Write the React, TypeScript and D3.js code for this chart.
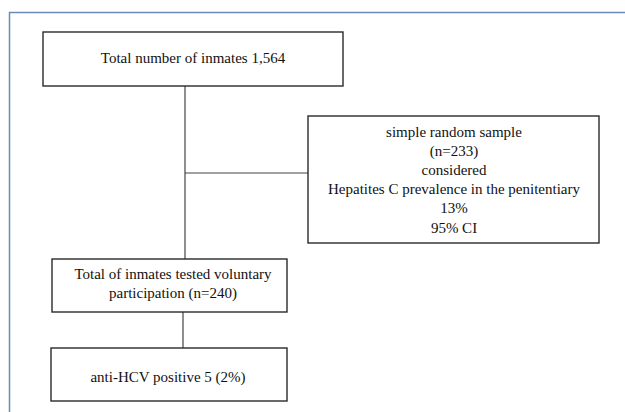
import React from "react";
import * as d3 from "d3";

const W = 625;
const H = 412;

// Texts of the flow chart boxes
const topBoxLines = ["Total number of inmates 1,564"];
const sideBoxLines = [
  "simple random sample",
  "(n=233)",
  "considered",
  "Hepatites C prevalence in the penitentiary",
  "13%",
  "95% CI",
];
const testedBoxLines = ["Total of inmates tested voluntary", "participation (n=240)"];
const resultBoxLines = ["anti-HCV positive 5 (2%)"];

// Layout (pixels)
const frame = { x: 9.5, y: 12.5 };
const boxes = [
  { key: "top", x: 43, y: 32, w: 300, h: 54, lines: topBoxLines, cx: 193, cy: 58 },
  { key: "side", x: 308, y: 116, w: 291, h: 127, lines: sideBoxLines, cx: 454, cy: 179.5 },
  { key: "tested", x: 52, y: 259, w: 235, h: 53, lines: testedBoxLines, cx: 173, cy: 283.5 },
  { key: "result", x: 51, y: 348, w: 236, h: 53, lines: resultBoxLines, cx: 168, cy: 377 },
];
const lineGap = 19.2;

const connectors: [number, number][][] = [
  [[185, 86], [185, 259]],
  [[185, 173], [308, 173]],
  [[183, 312], [183, 348]],
];

const FONT = "'Liberation Serif', 'Times New Roman', Times, 'DejaVu Serif', serif";

export default function App() {
  const lineGen = d3.line<[number, number]>().x((d) => d[0]).y((d) => d[1]);
  return (
    <svg
      width={W}
      height={H}
      style={{ position: "absolute", left: 0, top: 0, background: "#fff" }}
    >
      <rect width={W} height={H} fill="#fff" />
      {/* frame */}
      <path
        d={lineGen([[frame.x, H], [frame.x, frame.y], [W, frame.y]]) || ""}
        fill="none"
        stroke="#6a8ab8"
        strokeWidth={1.5}
      />
      {connectors.map((c, i) => (
        <path key={i} d={lineGen(c) || ""} fill="none" stroke="#444" strokeWidth={1.2} />
      ))}
      {boxes.map((b) => (
        <g key={b.key}>
          <rect x={b.x} y={b.y} width={b.w} height={b.h} fill="#fff" stroke="#2a2a2a" strokeWidth={1.4} />
          {b.lines.map((t, i) => (
            <text
              key={i}
              x={b.cx}
              y={b.cy + (i - (b.lines.length - 1) / 2) * lineGap}
              textAnchor="middle"
              dominantBaseline="central"
              style={{ fontFamily: FONT, fontSize: "15px" }}
              fill="#111"
            >
              {t}
            </text>
          ))}
        </g>
      ))}
    </svg>
  );
}
